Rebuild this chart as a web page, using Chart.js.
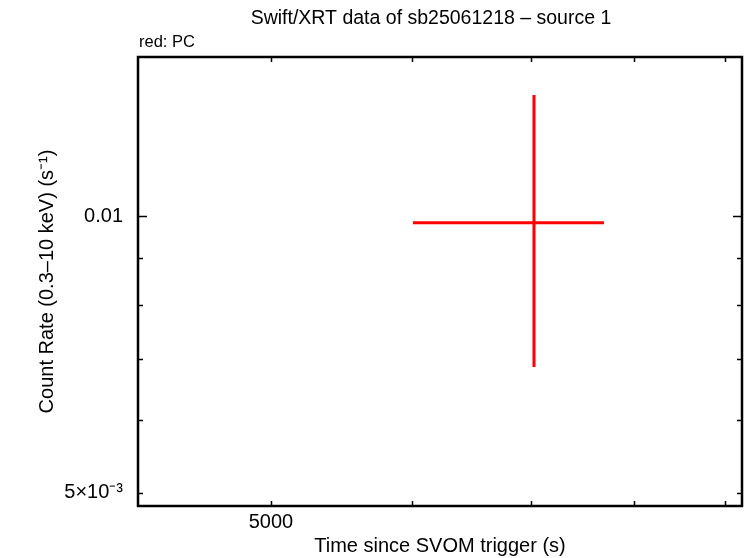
<!DOCTYPE html>
<html>
<head>
<meta charset="utf-8">
<script src="https://cdn.jsdelivr.net/npm/chart.js@4"></script>
<style>
  html, body { margin: 0; padding: 0; background: #fff; }
  #wrap { width: 746px; height: 558px; position: relative; }
</style>
</head>
<body>
<div id="wrap"><canvas id="lcChart"></canvas></div>
<script>
// Light curve data (PC mode)
const time = [7030];
const timeLo = [6009];
const timeHi = [7697];
const rate = [0.00984];
const rateLo = [0.006855];
const rateHi = [0.01356];

// Tick values and labels
const xTicks = [5000, 6000, 7000, 8000, 9000];
const xLabels = { 5000: '5000' };
const yTicks = [0.005, 0.006, 0.007, 0.008, 0.009, 0.01];
const yLabels = { 0.005: '5×10⁻³', 0.01: '0.01' };
const yMajor = [0.01];

const FONT = "'Liberation Sans', Arial, sans-serif";

// build error bar segments from the arrays
const datasets = [];
time.forEach((t, i) => {
    datasets.push({
        data: [{ x: timeLo[i], y: rate[i] }, { x: timeHi[i], y: rate[i] }],
        borderColor: '#ff0000', borderWidth: 3, pointRadius: 0, borderCapStyle: 'butt'
    });
    datasets.push({
        data: [{ x: t, y: rateHi[i] }, { x: t, y: rateLo[i] }],
        borderColor: '#ff0000', borderWidth: 3, pointRadius: 0, borderCapStyle: 'butt'
    });
});

// frame, inward ticks on all four sides, title texts
const framePlugin = {
    id: 'frame',
    afterDatasetsDraw(chart) {
        const { ctx, chartArea: a, scales } = chart;
        ctx.save();
        ctx.strokeStyle = '#000';
        ctx.lineWidth = 1.5;
        ctx.beginPath();
        xTicks.forEach(v => {
            const px = Math.round(scales.x.getPixelForValue(v)) + 0.5;
            ctx.moveTo(px, a.bottom); ctx.lineTo(px, a.bottom - 5);
            ctx.moveTo(px, a.top); ctx.lineTo(px, a.top + 5);
        });
        yTicks.forEach(v => {
            const py = Math.round(scales.y.getPixelForValue(v)) + 0.5;
            const len = yMajor.includes(v) ? 9 : 5;
            ctx.moveTo(a.left, py); ctx.lineTo(a.left + len, py);
            ctx.moveTo(a.right, py); ctx.lineTo(a.right - len, py);
        });
        ctx.stroke();
        ctx.lineWidth = 2.5;
        ctx.strokeRect(a.left, a.top, a.right - a.left, a.bottom - a.top);

        ctx.fillStyle = '#000';
        ctx.textBaseline = 'middle';
        ctx.textAlign = 'center';
        ctx.font = '19.5px ' + FONT;
        ctx.fillText('Swift/XRT data of sb25061218 – source 1', 431, 19);
        ctx.textAlign = 'left';
        ctx.font = '16.5px ' + FONT;
        ctx.fillText('red: PC', 139, 42);
        ctx.restore();
    }
};

new Chart(document.getElementById('lcChart'), {
    type: 'line',
    data: { datasets: datasets },
    plugins: [framePlugin],
    options: {
        responsive: true,
        maintainAspectRatio: false,
        animation: false,
        layout: { padding: { top: 57, right: 4, left: 0, bottom: 0 } },
        plugins: {
            legend: { display: false },
            tooltip: { enabled: false }
        },
        scales: {
            x: {
                type: 'logarithmic',
                min: 4209,
                max: 9204,
                grid: { display: false, drawTicks: false },
                border: { display: false },
                afterBuildTicks: s => { s.ticks = xTicks.map(v => ({ value: v })); },
                afterFit: s => { s.height = 52; },
                ticks: {
                    autoSkip: false,
                    maxRotation: 0,
                    padding: 4,
                    color: '#000',
                    font: { family: FONT, size: 20 },
                    callback: v => xLabels[v] || ''
                },
                title: {
                    display: true,
                    text: 'Time since SVOM trigger (s)',
                    color: '#000',
                    font: { family: FONT, size: 20 },
                    padding: { top: 0, bottom: 0 }
                }
            },
            y: {
                type: 'logarithmic',
                min: 0.004835,
                max: 0.01492,
                grid: { display: false, drawTicks: false },
                border: { display: false },
                afterBuildTicks: s => { s.ticks = yTicks.map(v => ({ value: v })); },
                afterFit: s => { s.width = 138; },
                ticks: {
                    autoSkip: false,
                    padding: 15,
                    color: '#000',
                    font: { family: FONT, size: 20 },
                    callback: v => yLabels[v] || ''
                },
                title: {
                    display: true,
                    text: 'Count Rate (0.3–10 keV) (s⁻¹)',
                    color: '#000',
                    font: { family: FONT, size: 20 },
                    padding: { top: 35, bottom: 0 }
                }
            }
        }
    }
});
</script>
</body>
</html>
